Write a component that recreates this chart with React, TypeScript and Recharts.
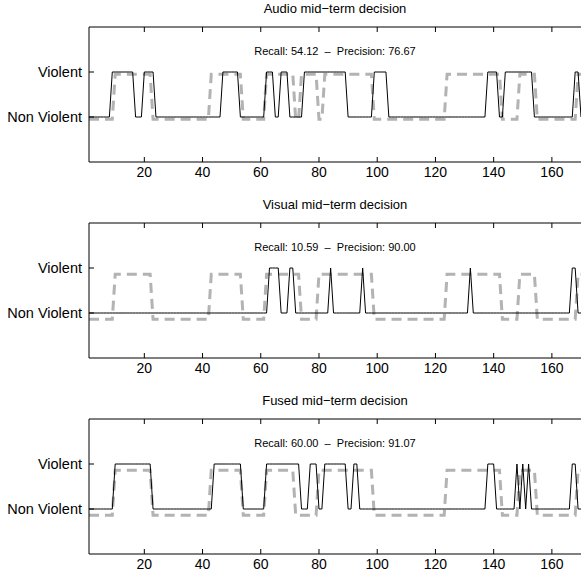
import { LineChart, Line, XAxis, YAxis, ReferenceDot } from 'recharts';

// frame index of each mid-term window
const frames = Array.from({ length: 170 }, (_, i) => i + 1);

// "Violent" stretches [from, to]
const audioDecision = [[9, 16], [20, 23], [47, 52], [62, 64], [67, 69], [75, 89], [99, 103], [138, 141], [144, 153], [168, 169]];
const audioTruth = [[10, 22], [43, 53], [62, 71], [74, 79], [82, 98], [124, 142], [149, 154], [169, 170]];
const visualDecision = [[63, 66], [70, 71], [84, 84], [95, 95], [132, 132], [167, 168]];
const visualTruth = [[10, 22], [43, 53], [62, 73], [80, 98], [124, 142], [149, 154], [169, 170]];
const fusedDecision = [[10, 22], [44, 53], [62, 73], [77, 79], [82, 89], [92, 93], [138, 140], [148, 148], [150, 150], [152, 152], [167, 168]];
const fusedTruth = [[10, 22], [43, 53], [62, 71], [80, 98], [124, 142], [149, 154], [169, 170]];

const titles = ['Audio mid\u2212term decision', 'Visual mid\u2212term decision', 'Fused mid\u2212term decision'];
const recall = [54.12, 10.59, 60.0];
const precision = [76.67, 90.0, 91.07];
const xTicks = [20, 40, 60, 80, 100, 120, 140, 160];

const FONT = '"Liberation Sans", Arial, Helvetica, sans-serif';

const panels = [
  { decision: audioDecision, truth: audioTruth, shift: 0.05 },
  { decision: visualDecision, truth: visualTruth, shift: 0.14 },
  { decision: fusedDecision, truth: fusedTruth, shift: 0.14 },
];

const level = (ranges: number[][], t: number) =>
  ranges.some(([a, b]) => t >= a && t <= b) ? 1 : 0;

const BottomTick = (props: any) => {
  const { x, y, payload } = props;
  return (
    <g>
      <line x1={x} x2={x} y1={y} y2={y - 5} stroke='#000' />
      <text x={x} y={y + 15} textAnchor='middle' fontSize={14} fontFamily={FONT} fill='#000'>
        {payload.value}
      </text>
    </g>
  );
};

const TopTick = (props: any) => {
  const { x, y } = props;
  return <line x1={x} x2={x} y1={y} y2={y + 5} stroke='#000' />;
};

const LeftTick = (props: any) => {
  const { x, y, payload } = props;
  return (
    <g>
      <line x1={x} x2={x + 5} y1={y} y2={y} stroke='#000' />
      <text x={x - 7} y={y + 5} textAnchor='end' fontSize={14.5} fontFamily={FONT} fill='#000'>
        {payload.value === 1 ? 'Violent' : 'Non Violent'}
      </text>
    </g>
  );
};

const Panel = ({ idx }: { idx: number }) => {
  const p = panels[idx];
  const rows = frames.map((t) => ({
    t,
    decision: level(p.decision, t),
    truth: level(p.truth, t) - p.shift,
  }));
  const note = `Recall: ${recall[idx].toFixed(2)} \u00a0\u2013\u00a0 Precision: ${precision[idx].toFixed(2)}`;

  return (
    <div style={{ position: 'relative', width: 600, height: 196 }}>
      <LineChart width={600} height={196} data={rows} margin={{ top: 26, right: 19, bottom: 4, left: 0 }}>
        <XAxis
          xAxisId='top'
          orientation='top'
          type='number'
          dataKey='t'
          domain={[1, 170]}
          ticks={xTicks}
          height={1}
          tickSize={0}
          tickMargin={0}
          tick={(props: any) => <TopTick {...props} />}
          stroke='#000'
          allowDataOverflow
        />
        <XAxis
          type='number'
          dataKey='t'
          domain={[1, 170]}
          ticks={xTicks}
          height={30}
          tickSize={0}
          tickMargin={0}
          tick={(props: any) => <BottomTick {...props} />}
          stroke='#000'
          allowDataOverflow
        />
        <YAxis
          type='number'
          domain={[-1, 2]}
          ticks={[0, 1]}
          width={89}
          tickSize={0}
          tickMargin={0}
          tick={(props: any) => <LeftTick {...props} />}
          stroke='#000'
          allowDataOverflow
        />
        <Line
          dataKey='truth'
          type='linear'
          stroke='#b3b3b3'
          strokeWidth={3}
          strokeDasharray='10 6'
          dot={false}
          isAnimationActive={false}
        />
        <Line
          dataKey='decision'
          type='linear'
          stroke='#000'
          strokeWidth={1}
          dot={false}
          isAnimationActive={false}
        />
        <ReferenceDot
          x={85.5}
          y={1.47}
          r={0}
          fill='none'
          stroke='none'
          label={{ value: note, position: 'center', fontSize: 11, fill: '#000', fontFamily: FONT }}
        />
      </LineChart>
      <div
        style={{
          position: 'absolute',
          left: 89,
          width: 492,
          top: 0,
          textAlign: 'center',
          fontSize: 13,
          lineHeight: '18px',
          fontFamily: FONT,
          color: '#000',
        }}
      >
        {titles[idx]}
      </div>
    </div>
  );
};

export default function App() {
  return (
    <div
      style={{
        position: 'absolute',
        left: 0,
        top: 0,
        width: 581,
        height: 578,
        overflow: 'hidden',
        background: '#fff',
      }}
    >
      <Panel idx={0} />
      <Panel idx={1} />
      <Panel idx={2} />
    </div>
  );
}
